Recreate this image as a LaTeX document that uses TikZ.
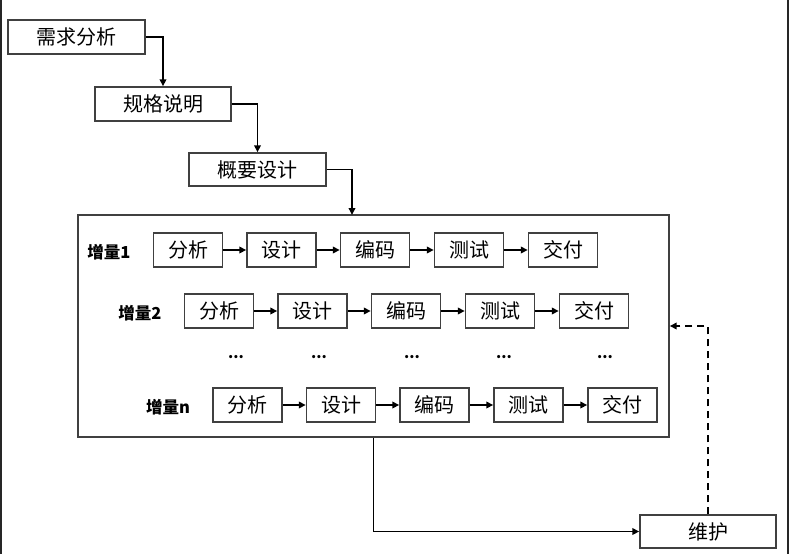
\documentclass[tikz,border=0pt]{standalone}
\usepackage{fontspec}
\setmainfont{Noto Sans CJK SC}
\usetikzlibrary{arrows.meta}
\tikzset{
  box/.style={draw=black!75, line width=1.4pt, fill=white, minimum height=34pt, inner sep=0pt, font=\fontsize{20}{20}\selectfont},
  sbox/.style={box, minimum width=69pt},
  lbl/.style={font=\fontsize{16.5}{16.5}\selectfont\bfseries, inner sep=0pt},
  dotl/.style={font=\fontsize{15}{15}\selectfont\bfseries, inner sep=0pt},
  arr/.style={draw=black, line width=1.8pt, -{Triangle[length=7pt,width=6.5pt]}},
  darr/.style={arr, dash pattern=on 7pt off 5pt}
}
\begin{document}
\begin{tikzpicture}[x=1pt, y=-1pt]
\useasboundingbox (0,0) rectangle (789,554);
\fill[white] (0,0) rectangle (789,554);
\fill[black!85] (0,0) rectangle (2,554);
\fill[black!85] (787,0) rectangle (789,554);

\node[box, minimum width=137pt] (xq) at (76.5,37) {需求分析};
\node[box, minimum width=136pt] (gg) at (163,104) {规格说明};
\node[box, minimum width=137pt, minimum height=33pt] (gy) at (257.5,169.5) {概要设计};
\node[draw=black!75, line width=1.4pt, minimum width=591pt, minimum height=222pt, inner sep=0pt] (big) at (373.5,326) {};
\node[box, minimum width=136pt, minimum height=33pt] (wh) at (708,531.5) {维护};
\coordinate (bt) at (352,215);

\draw[arr] (xq.east) -| (gg.north);
\draw[arr] (gg.east) -| (gy.north);
\draw[arr] (gy.east) -| (bt);

% rows
\foreach \r/\sx/\y/\lx/\ly/\lt in {1/188/250/109/252/增量1, 2/219/311/140/313/增量2, 3/247.5/405/168/407/增量n}{
  \node[lbl] (l\r) at (\lx,\ly) {\lt};
  \node[sbox] (r\r a) at (\sx,\y) {分析};
  \node[sbox] (r\r b) at (\sx+93.5,\y) {设计};
  \node[sbox] (r\r c) at (\sx+187,\y) {编码};
  \node[sbox] (r\r d) at (\sx+281,\y) {测试};
  \node[sbox] (r\r e) at (\sx+375,\y) {交付};
  \draw[arr] (r\r a) -- (r\r b);
  \draw[arr] (r\r b) -- (r\r c);
  \draw[arr] (r\r c) -- (r\r d);
  \draw[arr] (r\r d) -- (r\r e);
}
\foreach \i/\x in {1/236,2/319,3/412,4/504,5/605}{
  \node[dotl] (dt\i) at (\x,357) {...};
}

\draw[arr] (big.south) |- (wh.west);
\draw[darr] (wh.north) |- (big.east);
\end{tikzpicture}
\end{document}
